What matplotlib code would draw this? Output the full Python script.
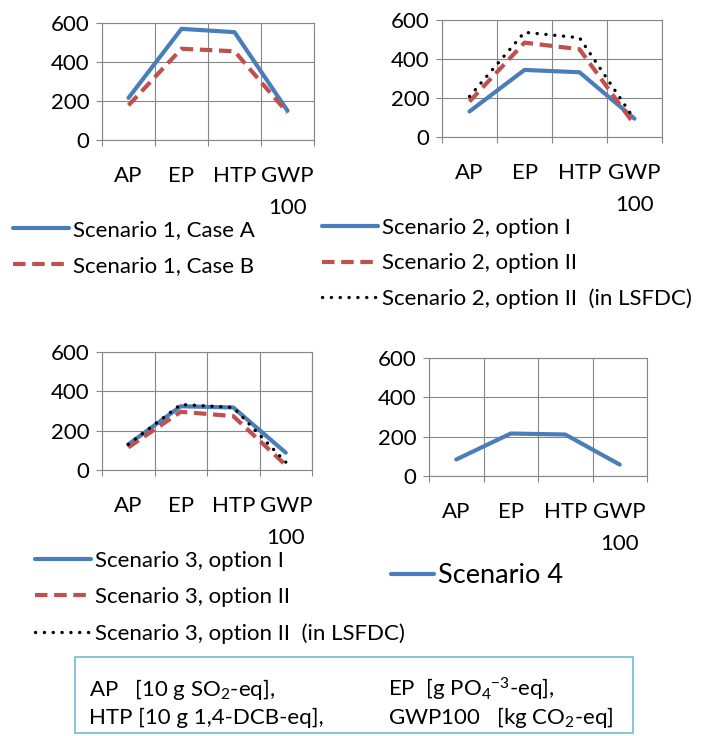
import matplotlib
matplotlib.use("Agg")
import matplotlib.pyplot as plt
from matplotlib.patches import Rectangle

plt.rcParams['font.family'] = ['Lato', 'DejaVu Sans']
plt.rcParams['mathtext.fontset'] = 'custom'
plt.rcParams['mathtext.rm'] = 'Lato'
plt.rcParams['mathtext.it'] = 'Lato:italic'
plt.rcParams['mathtext.bf'] = 'Lato:bold'

categories = ["AP", "EP", "HTP", "GWP\n100"]
s1_case_a = [216, 570, 553, 150]
s1_case_b = [178, 468, 455, 140]
s2_opt1 = [131, 344, 332, 94]
s2_opt2 = [182, 484, 450, 63]
s2_lsfdc = [208, 537, 509, 90]
s3_opt1 = [130, 324, 318, 88]
s3_opt2 = [115, 296, 274, 25]
s3_lsfdc = [130, 333, 318, 40]
s4 = [84, 216, 211, 58]
yticks = [0, 200, 400, 600]

BLUE = "#4A7EBB"
RED = "#C0504D"
GRID = "#868686"
W, H = 701, 736
FS = 16

fig = plt.figure(figsize=(W / 100, H / 100), dpi=100)


def px_axes(l, t, r, b):
    return fig.add_axes([l / W, 1 - b / H, (r - l) / W, (b - t) / H])


def style(ax):
    ax.set_xlim(0, 4)
    ax.set_ylim(0, 600)
    ax.set_yticks(yticks)
    ax.set_xticks([0, 1, 2, 3, 4])
    ax.set_xticklabels([])
    ax.set_xticks([0.5, 1.5, 2.5, 3.5], minor=True)
    ax.set_xticklabels(categories, minor=True, linespacing=1.7, va='top')
    ax.tick_params(axis='x', which='major', length=4, color=GRID, width=0.8, direction='out')
    ax.tick_params(axis='x', which='minor', length=0, pad=19, labelsize=FS)
    ax.tick_params(axis='y', length=4, color=GRID, width=0.8, direction='out', pad=5, labelsize=FS)
    ax.grid(True, which='major', color=GRID, linewidth=0.8)
    ax.set_axisbelow(True)
    for s in ax.spines.values():
        s.set_color(GRID)
        s.set_linewidth(0.8)


xs = [0.5, 1.5, 2.5, 3.5]
solid = dict(color=BLUE, lw=3, solid_capstyle='round', solid_joinstyle='round')
dashed = dict(color=RED, lw=3, linestyle=(0, (3, 1.6)), dash_capstyle='butt')
dotted = dict(color='black', lw=2.4, linestyle=(0, (0.05, 2.6)), dash_capstyle='round')

# Panel 1
ax1 = px_axes(102, 23, 314, 140)
style(ax1)
ax1.plot(xs, s1_case_a, label="Scenario 1, Case A", **solid)
ax1.plot(xs, s1_case_b, label="Scenario 1, Case B", **dashed)

# Panel 2
ax2 = px_axes(442, 20, 662, 137)
style(ax2)
ax2.plot(xs, s2_opt1, label="Scenario 2, option I", **solid)
ax2.plot(xs, s2_opt2, label="Scenario 2, option II", **dashed)
ax2.plot(xs, s2_lsfdc, label="Scenario 2, option II  (in LSFDC)", **dotted)

# Panel 3
ax3 = px_axes(102, 352, 312, 470)
style(ax3)
ax3.plot(xs, s3_opt1, label="Scenario 3, option I", **solid)
ax3.plot(xs, s3_opt2, label="Scenario 3, option II", **dashed)
ax3.plot(xs, s3_lsfdc, label="Scenario 3, option II  (in LSFDC)", **dotted)

# Panel 4
ax4 = px_axes(429, 358, 647, 476)
style(ax4)
ax4.plot(xs, s4, label="Scenario 4", **solid)


def legend_for(ax, x, y, size, spacing, hl, tp):
    h, l = ax.get_legend_handles_labels()
    fig.legend(h, l, loc='upper left', bbox_to_anchor=(x / W, 1 - y / H),
               frameon=False, fontsize=size, handlelength=hl, handletextpad=tp,
               labelspacing=spacing, borderpad=0, borderaxespad=0)


legend_for(ax1, 13, 220, FS, 0.72, 2.5, 0.22)
legend_for(ax2, 322, 218, FS, 0.69, 2.5, 0.22)
legend_for(ax3, 35, 551, FS, 0.72, 2.5, 0.22)
legend_for(ax4, 391, 563, 19.5, 0.5, 1.6, 0.12)

# Bottom units box
fig.add_artist(Rectangle((75 / W, 1 - 733 / H), (633 - 75) / W, (733 - 657) / H,
                         transform=fig.transFigure, fill=False,
                         edgecolor="#7CC2D4", linewidth=1.3))
fig.text(89 / W, 1 - 689 / H, r"AP   [10 g SO$_2$-eq],", fontsize=FS, va='center')
fig.text(89 / W, 1 - 718 / H, r"HTP [10 g 1,4-DCB-eq],", fontsize=FS, va='center')
fig.text(388 / W, 1 - 689 / H, r"EP  [g PO$_4$$^{-3}$-eq],", fontsize=FS, va='center')
fig.text(388 / W, 1 - 718 / H, r"GWP100   [kg CO$_2$-eq]", fontsize=FS, va='center')

fig.savefig("out.png", dpi=100)
